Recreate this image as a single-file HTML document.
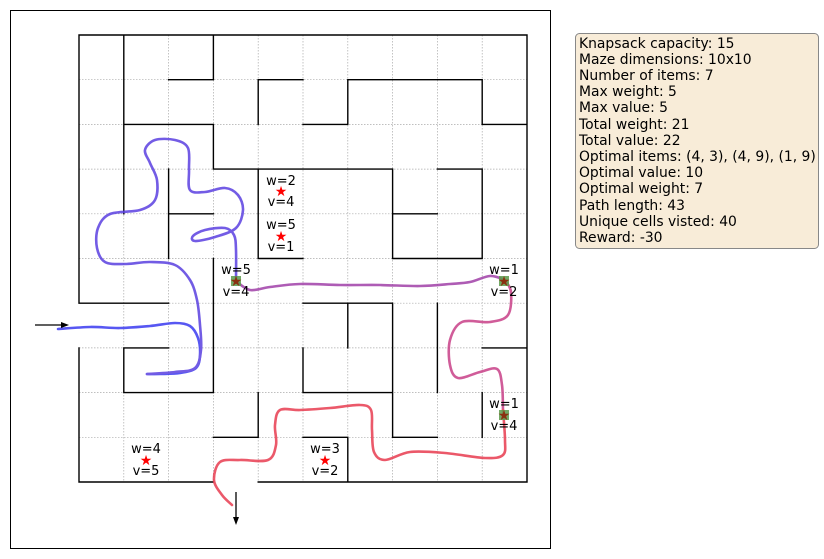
<!DOCTYPE html>
<html><head><meta charset="utf-8"><style>
html,body{margin:0;padding:0;background:#fff;}
svg{display:block;font-family:"DejaVu Sans","Liberation Sans",sans-serif;}
</style></head><body>
<svg id="s" width="824" height="559" viewBox="0 0 824 559" xmlns="http://www.w3.org/2000/svg">
<rect x="10.5" y="10.5" width="540" height="538" fill="#fff" stroke="#000" stroke-width="1"/>
<g transform="translate(79,35) scale(44.8,44.7)">
<path vector-effect="non-scaling-stroke" stroke="#aaa" stroke-width="0.7" stroke-dasharray="1.5,1.5" fill="none" d="M1 0V10M2 0V10M3 0V10M4 0V10M5 0V10M6 0V10M7 0V10M8 0V10M9 0V10M0 1H10M0 2H10M0 3H10M0 4H10M0 5H10M0 6H10M0 7H10M0 8H10M0 9H10"/>
<path vector-effect="non-scaling-stroke" stroke="#000" stroke-width="1.4" fill="none" stroke-linecap="square" d="
M0 0H10V10H4 M3 10H0V7 M0 6V0
M1 0V4 M3 0V1 M2 1H3 M4 1H5 M4 1V2 M1 2H3 M3 2V3 M3 3H7
M5 2H6 M6 1V2 M6 1H9 M9 1V2 M9 2H10
M2 3V5 M2 4H3 M4 3V5 M4 5H5 M3 5V8
M7 3V5 M7 4H8 M8 3H9 M9 3V5 M7 5H9
M0 6H2 M1 7H2 M1 7V8 M1 8H3 M4 8V9 M3 9H4
M5 6H7 M6 6V7 M7 6V9 M5 7V8 M5 8H7 M8 6V8 M9 7H10
M7 9H8 M9 8V9 M5 9H6 M6 9V10"/>
</g>
<g id="paths" fill="none" stroke-width="2.6" stroke-linejoin="round" stroke-linecap="round" opacity="0.85">
<polyline stroke="#3a3af0" points="58,329 90,327 120,328 150,326 175,323 190,326 198,338 200,355 196,368 180,373 160,374 147,374"/>
<polyline stroke="#5a40e0" points="147,374 175,372 195,368 201,350 200,325 197,300 190,280 175,265 150,262 125,264 105,262 97,248 98,228 110,214 140,210 155,200 157,180 150,163 145,150 155,140 175,140 188,148 189,170 190,190 205,192 225,188 238,195 243,210 236,228 215,237 195,241 193,236 205,230 225,228 234,235 236,250 236,281"/>
<polyline stroke="#a040a8" points="236,281 250,290 270,287 300,284 340,285 380,285 420,286 450,284 470,282 490,276 505,280"/>
<polyline stroke="#c84088" points="505,280 511,292 508,315 490,322 462,322 450,340 450,365 458,378 480,372 497,369 502,385 503,410"/>
<polyline stroke="#e83c50" points="503,410 505,440 503,455 485,458 445,453 410,452 385,460 374,452 372,430 371,410 360,405 330,408 300,410 280,410 275,425 276,445 268,460 240,460 220,462 214,480 222,495 232,505"/>
</g>
<g fill="#5a9a4a" opacity="0.85">
<rect x="231" y="276" width="10" height="10"/><rect x="499" y="276" width="10" height="10"/><rect x="499" y="410" width="10" height="10"/>
</g>
<g font-size="13" text-anchor="middle" fill="#000">
<text x="281" y="185">w=2</text><text x="281" y="206">v=4</text><text x="281" y="196" fill="#f00" font-size="14">★</text>
<text x="281" y="229">w=5</text><text x="281" y="251">v=1</text><text x="281" y="241" fill="#f00" font-size="14">★</text>
<text x="236" y="274">w=5</text><text x="236" y="296">v=4</text><text x="236" y="286" fill="#8a3010" font-size="14">★</text>
<text x="504" y="274">w=1</text><text x="504" y="296">v=2</text><text x="504" y="286" fill="#8a3010" font-size="14">★</text>
<text x="504" y="408">w=1</text><text x="504" y="430">v=4</text><text x="504" y="420" fill="#8a3010" font-size="14">★</text>
<text x="146" y="453">w=4</text><text x="146" y="475">v=5</text><text x="146" y="465" fill="#f00" font-size="14">★</text>
<text x="325" y="453">w=3</text><text x="325" y="475">v=2</text><text x="325" y="465" fill="#f00" font-size="14">★</text>
</g>
<line x1="35" y1="325" x2="62" y2="325" stroke="#000" stroke-width="1.3"/>
<path d="M61 322L69 325L61 328Z" fill="#000"/>
<line x1="236" y1="492" x2="236" y2="518" stroke="#000" stroke-width="1.3"/>
<path d="M233 517L236 525L239 517Z" fill="#000"/>
<rect x="575.5" y="33.5" width="243" height="215" rx="4" fill="#f8ecd8" stroke="#888" stroke-width="1"/>
<g font-size="13.9" fill="#000">
<text x="579" y="48">Knapsack capacity: 15</text>
<text x="579" y="64">Maze dimensions: 10x10</text>
<text x="579" y="80">Number of items: 7</text>
<text x="579" y="96">Max weight: 5</text>
<text x="579" y="112">Max value: 5</text>
<text x="579" y="129">Total weight: 21</text>
<text x="579" y="145">Total value: 22</text>
<text x="579" y="161">Optimal items: (4, 3), (4, 9), (1, 9)</text>
<text x="579" y="177">Optimal value: 10</text>
<text x="579" y="193">Optimal weight: 7</text>
<text x="579" y="210">Path length: 43</text>
<text x="579" y="226">Unique cells visted: 40</text>
<text x="579" y="242">Reward: -30</text>
</g>
</svg>
<script>
(function(){
var NS="http://www.w3.org/2000/svg";
var g=document.getElementById("paths");
var pls=[].slice.call(g.querySelectorAll("polyline"));
pls.forEach(function(pl){
var p=pl.getAttribute("points").trim().split(/\s+/).map(function(s){var a=s.split(",");return [+a[0],+a[1]];});
var d="M"+p[0][0]+" "+p[0][1];
for(var i=0;i<p.length-1;i++){
var p0=p[i-1]||p[i],p1=p[i],p2=p[i+1],p3=p[i+2]||p2;
var c1=[p1[0]+(p2[0]-p0[0])/6,p1[1]+(p2[1]-p0[1])/6];
var c2=[p2[0]-(p3[0]-p1[0])/6,p2[1]-(p3[1]-p1[1])/6];
d+="C"+c1[0].toFixed(1)+" "+c1[1].toFixed(1)+" "+c2[0].toFixed(1)+" "+c2[1].toFixed(1)+" "+p2[0]+" "+p2[1];
}
var path=document.createElementNS(NS,"path");
path.setAttribute("d",d);path.setAttribute("stroke",pl.getAttribute("stroke"));
g.replaceChild(path,pl);
});
})();
</script>
</body></html>
